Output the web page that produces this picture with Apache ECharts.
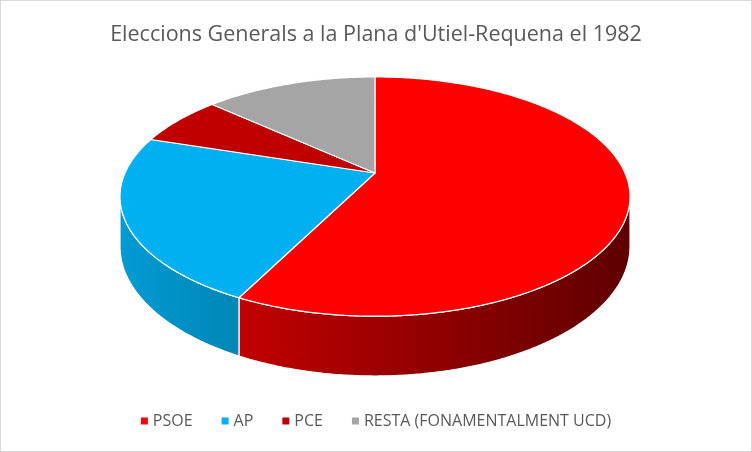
<!DOCTYPE html>
<html>
<head>
<meta charset="utf-8">
<script src="https://cdn.jsdelivr.net/npm/echarts@6/dist/echarts.min.js"></script>
<style>
html,body{margin:0;padding:0;background:#fff;}
#c{width:750px;height:450px;border:1px solid #d9d9d9;}
</style>
</head>
<body>
<div id="c"></div>
<script>
const titleText = "Eleccions Generals a la Plana d'Utiel-Requena el 1982";
const categories = ['PSOE', 'AP', 'PCE', 'RESTA (FONAMENTALMENT UCD)'];
const values = [57.4, 22.6, 6.8, 13.2];
const colors = ['#FF0000', '#00B0F0', '#C00000', '#A5A5A5'];

const total = values.reduce((a, b) => a + b, 0);
// geometry of the tilted pie
const cx = 374, cy = 172, A = 250, B = 115, P = 0.197, H = 48;
const thR = Math.acos(-P), thL = 2 * Math.PI - thR;

function proj(t) {
  const v = Math.cos(t), s = 1 / (1 + P * v);
  return [cx + A * Math.sin(t) * s, cy - B * v * s, s];
}
function shade(hex, f) {
  const r = parseInt(hex.slice(1, 3), 16), g = parseInt(hex.slice(3, 5), 16), b = parseInt(hex.slice(5, 7), 16);
  return 'rgb(' + Math.round(r * f) + ',' + Math.round(g * f) + ',' + Math.round(b * f) + ')';
}
function arcPts(a, b) {
  const n = Math.max(2, Math.ceil((b - a) / (Math.PI / 360)));
  const pts = [];
  for (let k = 0; k <= n; k++) pts.push(proj(a + (b - a) * k / n));
  return pts;
}

const series = categories.map((name, i) => ({
  type: 'custom',
  name: name,
  coordinateSystem: 'none',
  itemStyle: { color: colors[i] },
  data: [[values[i]]],
  renderItem: function (params, api) {
    let before = 0;
    for (let j = 0; j < i; j++) before += values[j];
    const a = before / total * 2 * Math.PI;
    const b = (before + api.value(0)) / total * 2 * Math.PI;
    const children = [];
    const lo = Math.max(a, thR), hi = Math.min(b, thL);
    if (lo < hi) {
      const top = arcPts(lo, hi);
      const pts = top.map(q => [q[0], q[1]]);
      for (let k = top.length - 1; k >= 0; k--) pts.push([top[k][0], top[k][1] + H * top[k][2]]);
      children.push({
        type: 'polygon', z2: 1,
        shape: { points: pts },
        style: {
          fill: {
            type: 'linear', x: cx - A - 5, y: 0, x2: cx + A + 5, y2: 0, global: true,
            colorStops: [
              { offset: 0, color: shade(colors[i], 0.88) },
              { offset: 1, color: shade(colors[i], 0.37) }
            ]
          },
          stroke: '#ffffff', lineWidth: 1.2
        }
      });
    }
    const arc = arcPts(a, b);
    const tp = [[cx, cy]].concat(arc.map(q => [q[0], q[1]]));
    children.push({
      type: 'polygon', z2: 10,
      shape: { points: tp },
      style: { fill: colors[i], stroke: '#ffffff', lineWidth: 1.2, lineJoin: 'round' }
    });
    return { type: 'group', children: children };
  }
}));

const chart = echarts.init(document.getElementById('c'));
chart.setOption({
  animation: false,
  backgroundColor: '#ffffff',
  title: {
    text: titleText, left: 'center', top: 18,
    textStyle: { color: '#595959', fontSize: 21.5, fontWeight: 'normal', fontFamily: 'Open Sans' }
  },
  legend: {
    data: categories, bottom: 17, left: 'center', icon: 'rect',
    itemWidth: 7, itemHeight: 7, itemGap: 29,
    textStyle: { color: '#595959', fontSize: 16, fontFamily: 'Open Sans' }
  },
  series: series
});
</script>
</body>
</html>
